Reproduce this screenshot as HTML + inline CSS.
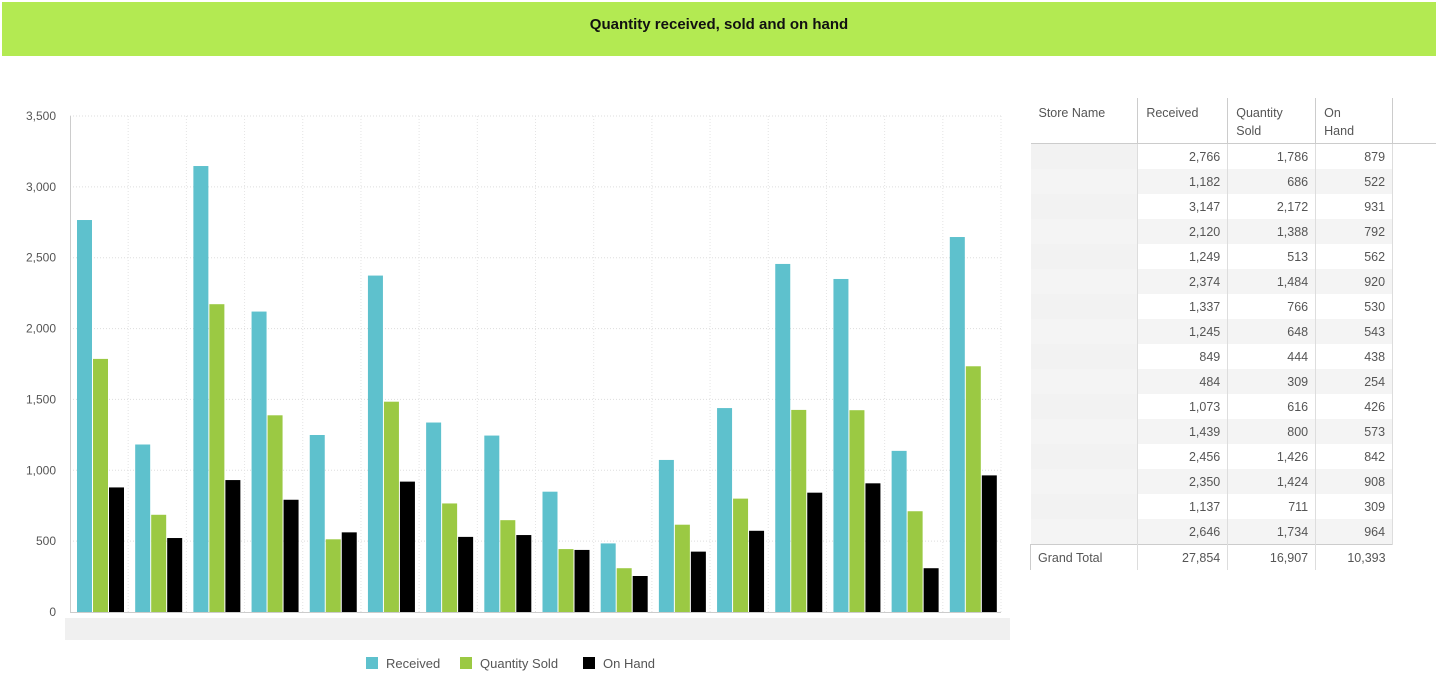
<!DOCTYPE html>
<html><head><meta charset="utf-8"><style>
body{margin:0;width:1436px;height:688px;background:#fff;font-family:"Liberation Sans",sans-serif;position:relative;overflow:hidden}
#title{position:absolute;left:2px;top:2px;width:1434px;height:54px;background:#b3ea52;text-align:center;line-height:46px;font-weight:bold;font-size:15px;color:#111}
#chart{position:absolute;left:0;top:0}
table{position:absolute;left:1030px;top:98px;border-collapse:collapse;font-size:12.5px;color:#555}
td,th{padding:0 7px;height:25px;font-weight:normal}
th{text-align:left;vertical-align:top;padding-top:6px;height:39px;border-left:1px solid #ccc;border-bottom:1px solid #ccc;line-height:18px;padding-left:8px}
th:first-child{border-left:none}
td{text-align:right;border-left:1px solid #ddd}
td:first-child{border-left:none;background:#f2f2f2}
tr.alt td{background:#f4f4f4}
tr.tot td{border-top:1px solid #ccc}
tr.tot td:first-child{background:#fff;text-align:left;border-left:1px solid #ccc}
</style></head><body>
<div id="title">Quantity received, sold and on hand</div>
<svg id="chart" width="1020" height="688"></svg>
<table>
<thead><tr><th style="width:92px">Store Name</th><th style="width:74px">Received</th><th style="width:72px">Quantity<br>Sold</th><th style="width:61px">On<br>Hand</th><th style="width:28px;border-bottom:1px solid #ccc"></th></tr></thead>
<tbody id="tb"></tbody></table>
<script>
const categories=["S1","S2","S3","S4","S5","S6","S7","S8","S9","S10","S11","S12","S13","S14","S15","S16"];
const received=[2766,1182,3147,2120,1249,2374,1337,1245,849,484,1073,1439,2456,2350,1137,2646];
const sold=[1786,686,2172,1388,513,1484,766,648,444,309,616,800,1426,1424,711,1734];
const onHand=[879,522,931,792,562,920,530,543,438,254,426,573,842,908,309,964];
const yTicks=[0,500,1000,1500,2000,2500,3000,3500];
const seriesNames=["Received","Quantity Sold","On Hand"];
const colors=["#5ec1cd","#9bc943","#000"];
const NS="http://www.w3.org/2000/svg";
const svg=document.getElementById('chart');
const x0=70,x1=1001,y0=612,yTop=116;
const y=v=>y0-(v/3500)*(y0-yTop);
const gw=(x1-x0)/categories.length;
function mk(t,a){const e=document.createElementNS(NS,t);for(const k in a)e.setAttribute(k,a[k]);svg.appendChild(e);return e;}
yTicks.forEach(t=>{
 if(t>0){const l=mk('line',{x1:x0,x2:x1,y1:y(t),y2:y(t),stroke:'#ddd','stroke-dasharray':'1,2'});}
 const tx=mk('text',{x:56,y:y(t)+4,'text-anchor':'end','font-size':12,fill:'#555','font-family':'Liberation Sans'});tx.textContent=t.toLocaleString('en-US');
 
});
categories.forEach((c,i)=>{
 const gx=x0+i*gw;
 const vl=mk('line',{x1:gx+gw,x2:gx+gw,y1:yTop,y2:y0,stroke:'#e4e4e4','stroke-dasharray':'1,2'});
 
 [received,sold,onHand].forEach((s,k)=>{
  const r=mk('rect',{x:gx+7+k*16,y:y(s[i]),width:15,height:y0-y(s[i]),fill:colors[k]});
  
  
 });
});
const ax=mk('line',{x1:x0,x2:x1,y1:y0+0.5,y2:y0+0.5,stroke:'#ccc'});
const ay=mk('line',{x1:x0+0.5,x2:x0+0.5,y1:yTop,y2:y0,stroke:'#ccc'});
const bl=mk('rect',{x:65,y:618,width:945,height:22,fill:'#f0f0f0'});
const lx=[366,460,583];
seriesNames.forEach((n,k)=>{
 const r=mk('rect',{x:lx[k],y:657,width:12,height:12,fill:colors[k]});
 const t=mk('text',{x:lx[k]+20,y:668,'font-size':13,fill:'#555','font-family':'Liberation Sans'});t.textContent=n;
 
});
const tb=document.getElementById('tb');
const f=v=>v.toLocaleString('en-US');
categories.forEach((c,i)=>{
 const tr=document.createElement('tr');if(i%2)tr.className='alt';
 
 tr.innerHTML=`<td></td><td>${f(received[i])}</td><td>${f(sold[i])}</td><td>${f(onHand[i])}</td><td style="background:#fff;border-left:1px solid #ddd"></td>`;
 tb.appendChild(tr);
});
const sum=a=>a.reduce((p,q)=>p+q,0);
const tr=document.createElement('tr');tr.className='tot';

tr.innerHTML=`<td>Grand Total</td><td>${f(sum(received))}</td><td>${f(sum(sold))}</td><td>${f(sum(onHand))}</td><td style="border:none;background:#fff"></td>`;
tb.appendChild(tr);
</script>
</body></html>
